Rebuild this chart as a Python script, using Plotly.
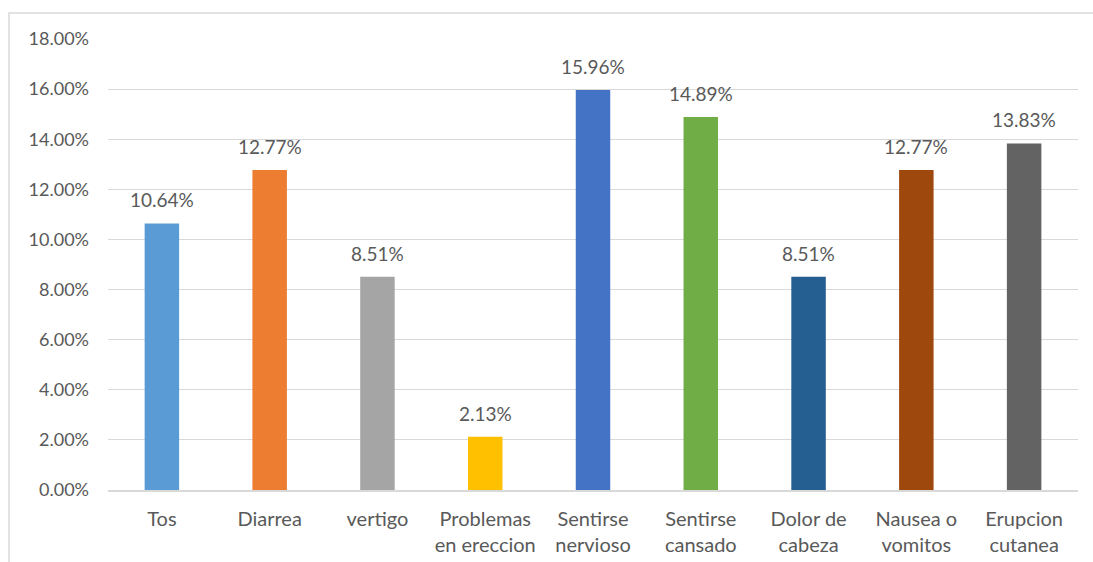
import plotly.graph_objects as go

# Symptom categories (two-line labels) and share of respondents
categories = [
    "Tos", "Diarrea", "vertigo", "Problemas<br>en ereccion",
    "Sentirse<br>nervioso", "Sentirse<br>cansado", "Dolor de<br>cabeza",
    "Nausea o<br>vomitos", "Erupcion<br>cutanea",
]
values = [0.1064, 0.1277, 0.0851, 0.0213, 0.1596, 0.1489, 0.0851, 0.1277, 0.1383]
colors = [
    "#5B9BD5", "#ED7D31", "#A5A5A5", "#FFC000", "#4472C4",
    "#70AD47", "#255E91", "#9E480E", "#636363",
]
y_ticks = [0.00, 0.02, 0.04, 0.06, 0.08, 0.10, 0.12, 0.14, 0.16, 0.18]

FONT = "Lato, Calibri, sans-serif"
TEXT_COLOR = "#595959"
GRID_COLOR = "#D9D9D9"

fig = go.Figure(
    go.Bar(
        x=categories,
        y=values,
        marker=dict(color=colors, line=dict(width=0)),
        width=0.32,
        cliponaxis=False,
    )
)

# Value labels floating above each bar
for cat, val in zip(categories, values):
    fig.add_annotation(
        x=cat,
        y=val,
        text=f"{val:.2%}",
        showarrow=False,
        yanchor="bottom",
        yshift=10,
        font=dict(family=FONT, size=19, color=TEXT_COLOR),
    )

fig.update_layout(
    width=1093,
    height=562,
    margin=dict(l=108, r=15, t=39, b=72),
    paper_bgcolor="white",
    plot_bgcolor="white",
    showlegend=False,
    font=dict(family=FONT, size=18, color=TEXT_COLOR),
    xaxis=dict(
        automargin=False,
        showgrid=False,
        showline=True,
        linecolor=GRID_COLOR,
        linewidth=1.5,
        ticks="",
        tickfont=dict(family=FONT, size=20, color=TEXT_COLOR),
        ticklabelstandoff=10,
    ),
    yaxis=dict(
        automargin=False,
        range=[0, 0.18],
        tickvals=y_ticks,
        tickformat=".2%",
        showgrid=True,
        gridcolor=GRID_COLOR,
        gridwidth=1.2,
        zeroline=False,
        showline=False,
        ticks="",
        tickfont=dict(family=FONT, size=18, color=TEXT_COLOR),
        ticklabelstandoff=18,
    ),
    shapes=[
        # Chart-area frame
        dict(
            type="rect",
            xref="paper",
            yref="paper",
            x0=-0.102,
            x1=1.03,
            y0=-0.25,
            y1=1.0576,
            line=dict(color=GRID_COLOR, width=1.5),
            fillcolor="rgba(0,0,0,0)",
            layer="below",
        )
    ],
)

fig.write_html("out.html")
